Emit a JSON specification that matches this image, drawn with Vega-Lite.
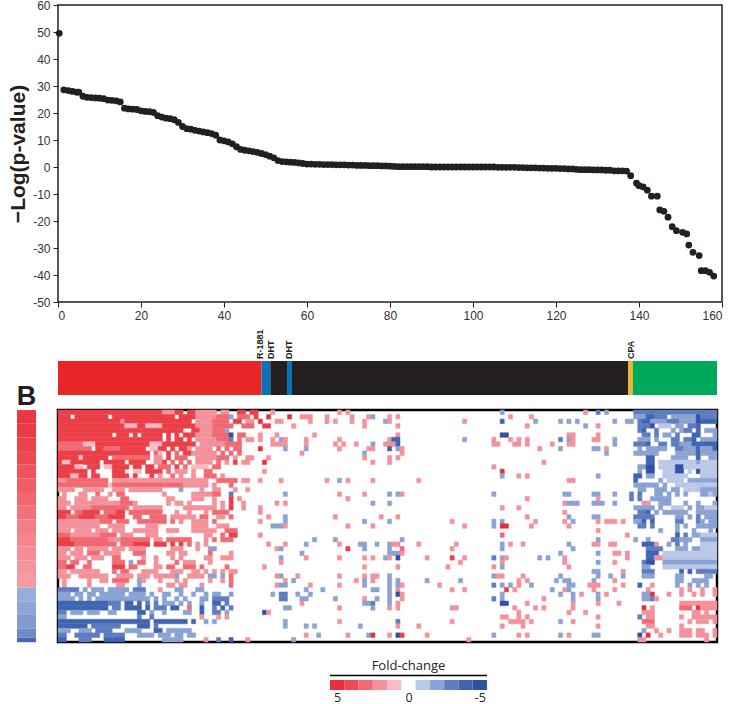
{"$schema":"https://vega.github.io/schema/vega-lite/v6.json","padding":{"left":6,"top":-2,"right":0,"bottom":0},"background":"white","config":{"view":{"stroke":null},"font":"Liberation Sans"},"bounds":"flush","spacing":22,"hconcat":[
{"width":19,"height":685,"layer":[
{"data":{"values":[{"s":0,"e":3,"v":4.8},{"s":3,"e":6,"v":4.6},{"s":6,"e":9,"v":4.3},{"s":9,"e":12,"v":4},{"s":12,"e":15,"v":3.7},{"s":15,"e":18,"v":3.4},{"s":18,"e":21,"v":3.1},{"s":21,"e":24,"v":2.8},{"s":24,"e":27,"v":2.5},{"s":27,"e":30,"v":2.3},{"s":30,"e":33,"v":2.1},{"s":33,"e":36,"v":1.9},{"s":36,"e":39,"v":1.8},{"s":39,"e":42,"v":-1.7},{"s":42,"e":45,"v":-1.9},{"s":45,"e":48,"v":-2.2},{"s":48,"e":50,"v":-2.6},{"s":50,"e":51,"v":-3.8}]},"mark":{"type":"rect"},"encoding":{"y":{"field":"s","type":"quantitative","axis":null,"scale":{"domain":[-89,61.5],"nice":false,"zero":false,"reverse":true}},"y2":{"field":"e"},"color":{"field":"v","type":"quantitative","legend":null,"scale":{"domain":[-5,-4,-3,-2,-1,0,1,2,3,4,5],"range":["#2f50a4","#3e64b2","#5f7cc0","#8aa2d4","#bcc8e8","#ffffff","#f9bcc4","#f4919a","#f06a72","#ee4a52","#e8303a"]}}}},
{"data":{"values":[{"t":"B","s":0.25}]},"mark":{"type":"text","fontSize":27,"fontWeight":"bold","baseline":"bottom","font":"Liberation Sans","color":"#231f20"},"encoding":{"y":{"field":"s","type":"quantitative","axis":null,"scale":{"domain":[-89,61.5],"nice":false,"zero":false,"reverse":true}},"text":{"field":"t"}}}
]},
{"bounds":"flush","spacing":0,"vconcat":[
{"width":664,"height":297,"view":{"stroke":"#231f20","strokeWidth":1.5},"data":{"values":[{"k":0.3,"y":49.5},{"k":1.4,"y":28.6},{"k":2.5,"y":28.3},{"k":3.5,"y":28},{"k":4.5,"y":27.7},{"k":5,"y":27.7},{"k":6,"y":26.2},{"k":7,"y":25.8},{"k":8,"y":25.7},{"k":9,"y":25.6},{"k":10,"y":25.5},{"k":11,"y":25.3},{"k":12,"y":24.8},{"k":13,"y":24.7},{"k":14,"y":24.5},{"k":15,"y":24.1},{"k":16,"y":21.8},{"k":17,"y":21.5},{"k":18,"y":21.4},{"k":19,"y":21.3},{"k":20,"y":20.8},{"k":21,"y":20.6},{"k":22,"y":20.5},{"k":23,"y":20.2},{"k":24,"y":19},{"k":25,"y":18.5},{"k":26,"y":18.1},{"k":27,"y":17.9},{"k":28,"y":17.5},{"k":29,"y":16.5},{"k":30,"y":15},{"k":31,"y":14.2},{"k":32,"y":14},{"k":33,"y":13.6},{"k":34,"y":13.3},{"k":35,"y":13},{"k":36,"y":12.7},{"k":37,"y":12.4},{"k":38,"y":11.8},{"k":39,"y":10},{"k":40,"y":9.7},{"k":41,"y":9.3},{"k":42,"y":8.6},{"k":43,"y":7.5},{"k":44,"y":6.5},{"k":45,"y":6.2},{"k":46,"y":6},{"k":47,"y":5.7},{"k":48,"y":5.4},{"k":49,"y":5},{"k":50,"y":4.6},{"k":51,"y":4},{"k":52,"y":3.4},{"k":53,"y":2.4},{"k":54,"y":2},{"k":55,"y":1.9},{"k":56,"y":1.8},{"k":57,"y":1.7},{"k":58,"y":1.5},{"k":59,"y":1.3},{"k":60,"y":1.1},{"k":61,"y":1.1},{"k":62,"y":1},{"k":63,"y":1},{"k":64,"y":0.9},{"k":65,"y":0.9},{"k":66,"y":0.9},{"k":67,"y":0.8},{"k":68,"y":0.8},{"k":69,"y":0.8},{"k":70,"y":0.7},{"k":71,"y":0.7},{"k":72,"y":0.6},{"k":73,"y":0.6},{"k":74,"y":0.6},{"k":75,"y":0.5},{"k":76,"y":0.5},{"k":77,"y":0.5},{"k":78,"y":0.4},{"k":79,"y":0.4},{"k":80,"y":0.3},{"k":81,"y":0.2},{"k":82,"y":0.1},{"k":83,"y":0.1},{"k":84,"y":0.1},{"k":85,"y":0.1},{"k":86,"y":0.1},{"k":87,"y":0.1},{"k":88,"y":0.1},{"k":89,"y":0.1},{"k":90,"y":0},{"k":91,"y":0},{"k":92,"y":0},{"k":93,"y":0},{"k":94,"y":0},{"k":95,"y":0},{"k":96,"y":0},{"k":97,"y":0},{"k":98,"y":0},{"k":99,"y":0},{"k":100,"y":0},{"k":101,"y":0},{"k":102,"y":0},{"k":103,"y":0},{"k":104,"y":0},{"k":105,"y":0},{"k":106,"y":-0.1},{"k":107,"y":-0.1},{"k":108,"y":-0.1},{"k":109,"y":-0.1},{"k":110,"y":-0.1},{"k":111,"y":-0.2},{"k":112,"y":-0.2},{"k":113,"y":-0.3},{"k":114,"y":-0.3},{"k":115,"y":-0.3},{"k":116,"y":-0.4},{"k":117,"y":-0.4},{"k":118,"y":-0.5},{"k":119,"y":-0.5},{"k":120,"y":-0.5},{"k":121,"y":-0.6},{"k":122,"y":-0.6},{"k":123,"y":-0.7},{"k":124,"y":-0.7},{"k":125,"y":-0.9},{"k":126,"y":-1},{"k":127,"y":-1},{"k":128,"y":-1},{"k":129,"y":-1.1},{"k":130,"y":-1.1},{"k":131,"y":-1.1},{"k":132,"y":-1.2},{"k":133,"y":-1.2},{"k":134,"y":-1.4},{"k":135,"y":-1.4},{"k":136,"y":-1.4},{"k":137,"y":-1.5},{"k":138,"y":-3.2},{"k":139.4,"y":-6},{"k":140,"y":-6.9},{"k":141,"y":-7.4},{"k":142,"y":-8.6},{"k":143,"y":-10.8},{"k":144.4,"y":-10.8},{"k":145,"y":-15.9},{"k":146,"y":-16.4},{"k":147,"y":-18.6},{"k":148,"y":-22.1},{"k":149,"y":-23.6},{"k":150.5,"y":-24.2},{"k":151.5,"y":-24.8},{"k":152,"y":-28.9},{"k":153,"y":-31.6},{"k":154.5,"y":-32.8},{"k":155,"y":-38.4},{"k":156,"y":-38.4},{"k":157,"y":-39},{"k":158,"y":-40.4}]},"mark":{"type":"circle","size":46,"opacity":1,"color":"#231f20"},"encoding":{"x":{"field":"k","type":"quantitative","scale":{"domain":[0,160],"nice":false},"axis":{"values":[0,20,40,60,80,100,120,140,160],"title":null,"grid":false,"domain":false,"tickColor":"#231f20","tickSize":5,"labelFontSize":12,"labelColor":"#333333","labelFont":"Liberation Sans","labelPadding":3}},"y":{"field":"y","type":"quantitative","scale":{"domain":[-50,60],"nice":false},"axis":{"values":[-50,-40,-30,-20,-10,0,10,20,30,40,50,60],"labelExpr":"replace(datum.label,'−','-')","title":"−Log(p-value)","titleFontSize":21,"titleFontWeight":"bold","titleColor":"#231f20","titlePadding":4,"grid":false,"domain":false,"tickColor":"#231f20","tickSize":5,"labelFontSize":12,"labelColor":"#333333","labelFont":"Liberation Sans","labelPadding":3}}}},
{"width":659,"height":59,"data":{"values":[{"t":"x"}]},"mark":{"type":"rect","opacity":0},"encoding":{}},
{"width":659,"height":34,"layer":[
{"data":{"values":[{"a":0,"b":48.8,"c":"treat"},{"a":48.8,"b":50.9,"c":"dht"},{"a":50.9,"b":54.9,"c":"other"},{"a":54.9,"b":56.1,"c":"dht"},{"a":56.1,"b":136.7,"c":"other"},{"a":136.7,"b":137.8,"c":"cpa"},{"a":137.8,"b":158,"c":"down"}]},"mark":{"type":"rect"},"encoding":{"x":{"field":"a","type":"quantitative","axis":null,"scale":{"domain":[0,158],"nice":false}},"x2":{"field":"b"},"color":{"field":"c","type":"nominal","legend":null,"scale":{"domain":["treat","dht","other","cpa","down"],"range":["#e92528","#0b72b9","#231f20","#f0b02a","#00a85a"]}}}},
{"data":{"values":[{"a":48.5,"t":"R-1881","h":1},{"a":51,"t":"DHT","h":1},{"a":55.5,"t":"DHT","h":1},{"a":137.3,"t":"CPA","h":1}]},"mark":{"type":"text","angle":270,"align":"left","baseline":"middle","fontSize":9,"fontWeight":"bold","dx":2,"color":"#231f20"},"encoding":{"x":{"field":"a","type":"quantitative","axis":null,"scale":{"domain":[0,158],"nice":false}},"y":{"field":"h","type":"quantitative","axis":null,"scale":{"domain":[0,1]}},"text":{"field":"t"}}}
]},
{"width":659,"height":15,"data":{"values":[{"t":"x"}]},"mark":{"type":"rect","opacity":0},"encoding":{}},
{"width":659,"height":232,"view":{"stroke":"#000000","strokeWidth":2.5},"data":{"values":[
{"r":1,"a":0,"b":25,"v":4},{"r":1,"a":25,"b":28,"v":2},{"r":1,"a":28,"b":30,"v":4},{"r":1,"a":31,"b":33,"v":4},{"r":1,"a":33,"b":38,"v":2},{"r":1,"a":39,"b":41,"v":2},{"r":1,"a":43,"b":45,"v":4},{"r":1,"a":46,"b":48,"v":4},{"r":1,"a":51,"b":52,"v":2},{"r":1,"a":67,"b":68,"v":2},{"r":1,"a":69,"b":70,"v":2},{"r":1,"a":106,"b":107,"v":-2},{"r":1,"a":126,"b":127,"v":2},{"r":1,"a":129,"b":130,"v":-3},{"r":1,"a":131,"b":132,"v":-2},{"r":1,"a":138,"b":158,"v":-3},
{"r":2,"a":0,"b":3,"v":4},{"r":2,"a":4,"b":12,"v":4},{"r":2,"a":13,"b":28,"v":4},{"r":2,"a":29,"b":33,"v":4},{"r":2,"a":33,"b":38,"v":2},{"r":2,"a":38,"b":41,"v":3},{"r":2,"a":41,"b":42,"v":-2},{"r":2,"a":43,"b":46,"v":3},{"r":2,"a":47,"b":48,"v":4},{"r":2,"a":50,"b":51,"v":5},{"r":2,"a":55,"b":56,"v":5},{"r":2,"a":58,"b":61,"v":2},{"r":2,"a":64,"b":65,"v":2},{"r":2,"a":70,"b":71,"v":2},{"r":2,"a":74,"b":75,"v":2},{"r":2,"a":75,"b":76,"v":-2},{"r":2,"a":79,"b":80,"v":2},{"r":2,"a":81,"b":82,"v":2},{"r":2,"a":108,"b":109,"v":2},{"r":2,"a":113,"b":114,"v":2},{"r":2,"a":138,"b":141,"v":-2},{"r":2,"a":141,"b":143,"v":-4},{"r":2,"a":143,"b":146,"v":-3},{"r":2,"a":147,"b":153,"v":-2},{"r":2,"a":153,"b":154,"v":-5},{"r":2,"a":154,"b":158,"v":-3},
{"r":3,"a":0,"b":15,"v":4},{"r":3,"a":15,"b":16,"v":2},{"r":3,"a":16,"b":32,"v":4},{"r":3,"a":33,"b":37,"v":2},{"r":3,"a":37,"b":41,"v":3},{"r":3,"a":42,"b":44,"v":4},{"r":3,"a":45,"b":47,"v":2},{"r":3,"a":48,"b":49,"v":5},{"r":3,"a":52,"b":54,"v":2},{"r":3,"a":60,"b":61,"v":2},{"r":3,"a":64,"b":65,"v":2},{"r":3,"a":66,"b":67,"v":2},{"r":3,"a":70,"b":71,"v":2},{"r":3,"a":73,"b":74,"v":2},{"r":3,"a":78,"b":79,"v":-2},{"r":3,"a":79,"b":80,"v":2},{"r":3,"a":97,"b":98,"v":2},{"r":3,"a":106,"b":107,"v":-4},{"r":3,"a":114,"b":115,"v":-2},{"r":3,"a":120,"b":121,"v":-2},{"r":3,"a":122,"b":123,"v":-2},{"r":3,"a":124,"b":125,"v":-2},{"r":3,"a":133,"b":134,"v":-2},{"r":3,"a":136,"b":137,"v":-2},{"r":3,"a":137,"b":138,"v":-2},{"r":3,"a":139,"b":140,"v":-3},{"r":3,"a":140,"b":142,"v":-4},{"r":3,"a":142,"b":146,"v":-2},{"r":3,"a":146,"b":149,"v":-3},{"r":3,"a":149,"b":153,"v":-2},{"r":3,"a":153,"b":154,"v":-5},{"r":3,"a":154,"b":158,"v":-4},
{"r":4,"a":0,"b":16,"v":4},{"r":4,"a":16,"b":19,"v":1},{"r":4,"a":19,"b":21,"v":4},{"r":4,"a":21,"b":25,"v":1},{"r":4,"a":25,"b":33,"v":4},{"r":4,"a":33,"b":37,"v":2},{"r":4,"a":37,"b":42,"v":3},{"r":4,"a":44,"b":47,"v":3},{"r":4,"a":49,"b":51,"v":4},{"r":4,"a":56,"b":57,"v":2},{"r":4,"a":73,"b":74,"v":2},{"r":4,"a":81,"b":82,"v":2},{"r":4,"a":112,"b":113,"v":2},{"r":4,"a":126,"b":127,"v":-2},{"r":4,"a":129,"b":130,"v":2},{"r":4,"a":139,"b":142,"v":-3},{"r":4,"a":142,"b":143,"v":-5},{"r":4,"a":144,"b":147,"v":-1},{"r":4,"a":148,"b":150,"v":-2},{"r":4,"a":151,"b":153,"v":-3},{"r":4,"a":153,"b":154,"v":-4},
{"r":5,"a":0,"b":30,"v":4},{"r":5,"a":32,"b":34,"v":4},{"r":5,"a":34,"b":37,"v":2},{"r":5,"a":37,"b":40,"v":3},{"r":5,"a":40,"b":41,"v":-2},{"r":5,"a":139,"b":140,"v":-3},{"r":5,"a":140,"b":141,"v":-4},{"r":5,"a":143,"b":144,"v":-3},{"r":5,"a":147,"b":148,"v":-2},{"r":5,"a":149,"b":150,"v":-2},{"r":5,"a":150,"b":152,"v":-3},{"r":5,"a":153,"b":154,"v":-4},{"r":5,"a":155,"b":156,"v":-2},{"r":5,"a":156,"b":158,"v":-2},
{"r":6,"a":0,"b":13,"v":4},{"r":6,"a":14,"b":17,"v":4},{"r":6,"a":18,"b":19,"v":4},{"r":6,"a":20,"b":25,"v":4},{"r":6,"a":26,"b":27,"v":4},{"r":6,"a":28,"b":29,"v":4},{"r":6,"a":30,"b":33,"v":4},{"r":6,"a":33,"b":37,"v":2},{"r":6,"a":37,"b":41,"v":3},{"r":6,"a":41,"b":42,"v":-5},{"r":6,"a":43,"b":45,"v":3},{"r":6,"a":48,"b":49,"v":2},{"r":6,"a":52,"b":53,"v":2},{"r":6,"a":61,"b":62,"v":2},{"r":6,"a":81,"b":82,"v":2},{"r":6,"a":106,"b":108,"v":-5},{"r":6,"a":122,"b":123,"v":2},{"r":6,"a":123,"b":124,"v":2},{"r":6,"a":129,"b":130,"v":2},{"r":6,"a":140,"b":142,"v":-3},{"r":6,"a":143,"b":144,"v":-3},{"r":6,"a":145,"b":147,"v":-2},{"r":6,"a":148,"b":149,"v":-3},{"r":6,"a":152,"b":154,"v":-4},{"r":6,"a":157,"b":158,"v":-2},
{"r":7,"a":0,"b":25,"v":4},{"r":7,"a":26,"b":27,"v":4},{"r":7,"a":28,"b":30,"v":4},{"r":7,"a":31,"b":32,"v":4},{"r":7,"a":33,"b":38,"v":2},{"r":7,"a":38,"b":41,"v":3},{"r":7,"a":41,"b":42,"v":-3},{"r":7,"a":43,"b":44,"v":3},{"r":7,"a":45,"b":47,"v":2},{"r":7,"a":48,"b":49,"v":2},{"r":7,"a":51,"b":52,"v":2},{"r":7,"a":53,"b":54,"v":-2},{"r":7,"a":54,"b":55,"v":2},{"r":7,"a":59,"b":60,"v":2},{"r":7,"a":67,"b":68,"v":2},{"r":7,"a":79,"b":80,"v":2},{"r":7,"a":80,"b":82,"v":-4},{"r":7,"a":97,"b":98,"v":-2},{"r":7,"a":104,"b":105,"v":2},{"r":7,"a":108,"b":109,"v":2},{"r":7,"a":110,"b":111,"v":2},{"r":7,"a":112,"b":113,"v":2},{"r":7,"a":120,"b":121,"v":-3},{"r":7,"a":122,"b":123,"v":-2},{"r":7,"a":123,"b":124,"v":2},{"r":7,"a":128,"b":130,"v":2},{"r":7,"a":133,"b":134,"v":-2},{"r":7,"a":139,"b":142,"v":-2},{"r":7,"a":143,"b":144,"v":-2},{"r":7,"a":147,"b":149,"v":-3},{"r":7,"a":150,"b":152,"v":-3},{"r":7,"a":152,"b":153,"v":-4},{"r":7,"a":154,"b":155,"v":-2},{"r":7,"a":155,"b":158,"v":-2},
{"r":8,"a":0,"b":6,"v":3},{"r":8,"a":6,"b":9,"v":1},{"r":8,"a":9,"b":22,"v":4},{"r":8,"a":22,"b":25,"v":1},{"r":8,"a":25,"b":33,"v":4},{"r":8,"a":34,"b":40,"v":2},{"r":8,"a":40,"b":44,"v":3},{"r":8,"a":51,"b":55,"v":2},{"r":8,"a":59,"b":60,"v":2},{"r":8,"a":66,"b":67,"v":2},{"r":8,"a":68,"b":69,"v":2},{"r":8,"a":71,"b":72,"v":2},{"r":8,"a":75,"b":76,"v":-2},{"r":8,"a":78,"b":81,"v":2},{"r":8,"a":81,"b":82,"v":-4},{"r":8,"a":104,"b":106,"v":2},{"r":8,"a":109,"b":111,"v":2},{"r":8,"a":112,"b":113,"v":2},{"r":8,"a":118,"b":119,"v":2},{"r":8,"a":122,"b":124,"v":2},{"r":8,"a":133,"b":134,"v":-2},{"r":8,"a":138,"b":141,"v":-3},{"r":8,"a":141,"b":142,"v":-4},{"r":8,"a":144,"b":146,"v":-3},{"r":8,"a":147,"b":149,"v":-3},{"r":8,"a":149,"b":152,"v":-2},{"r":8,"a":152,"b":154,"v":-4},{"r":8,"a":154,"b":158,"v":-4},
{"r":9,"a":0,"b":8,"v":3},{"r":9,"a":9,"b":11,"v":4},{"r":9,"a":11,"b":15,"v":3},{"r":9,"a":15,"b":21,"v":4},{"r":9,"a":22,"b":24,"v":1},{"r":9,"a":24,"b":26,"v":4},{"r":9,"a":27,"b":28,"v":4},{"r":9,"a":29,"b":31,"v":4},{"r":9,"a":31,"b":32,"v":2},{"r":9,"a":33,"b":37,"v":2},{"r":9,"a":38,"b":39,"v":3},{"r":9,"a":40,"b":41,"v":3},{"r":9,"a":42,"b":44,"v":3},{"r":9,"a":48,"b":49,"v":5},{"r":9,"a":54,"b":55,"v":-2},{"r":9,"a":59,"b":60,"v":-2},{"r":9,"a":67,"b":68,"v":2},{"r":9,"a":74,"b":76,"v":2},{"r":9,"a":79,"b":80,"v":-4},{"r":9,"a":81,"b":82,"v":-2},{"r":9,"a":82,"b":83,"v":2},{"r":9,"a":115,"b":116,"v":2},{"r":9,"a":120,"b":121,"v":-2},{"r":9,"a":128,"b":130,"v":-2},{"r":9,"a":131,"b":132,"v":2},{"r":9,"a":139,"b":140,"v":-2},{"r":9,"a":141,"b":146,"v":-2},{"r":9,"a":148,"b":150,"v":-3},{"r":9,"a":150,"b":153,"v":-2},{"r":9,"a":153,"b":154,"v":-4},{"r":9,"a":154,"b":157,"v":-2},{"r":9,"a":157,"b":158,"v":-4},
{"r":10,"a":0,"b":22,"v":4},{"r":10,"a":23,"b":24,"v":3},{"r":10,"a":24,"b":25,"v":1},{"r":10,"a":26,"b":27,"v":4},{"r":10,"a":28,"b":29,"v":3},{"r":10,"a":30,"b":32,"v":4},{"r":10,"a":32,"b":38,"v":2},{"r":10,"a":39,"b":40,"v":3},{"r":10,"a":41,"b":42,"v":3},{"r":10,"a":43,"b":44,"v":3},{"r":10,"a":58,"b":59,"v":2},{"r":10,"a":73,"b":74,"v":-2},{"r":10,"a":82,"b":83,"v":2},{"r":10,"a":131,"b":132,"v":-2},{"r":10,"a":138,"b":144,"v":-2},{"r":10,"a":148,"b":150,"v":-2},{"r":10,"a":150,"b":153,"v":-2},{"r":10,"a":153,"b":154,"v":-4},{"r":10,"a":154,"b":158,"v":-2},
{"r":11,"a":0,"b":5,"v":4},{"r":11,"a":5,"b":6,"v":1},{"r":11,"a":6,"b":12,"v":4},{"r":11,"a":13,"b":22,"v":3},{"r":11,"a":23,"b":25,"v":2},{"r":11,"a":26,"b":27,"v":4},{"r":11,"a":28,"b":31,"v":3},{"r":11,"a":33,"b":38,"v":2},{"r":11,"a":38,"b":41,"v":3},{"r":11,"a":42,"b":43,"v":2},{"r":11,"a":45,"b":47,"v":2},{"r":11,"a":50,"b":51,"v":2},{"r":11,"a":73,"b":74,"v":2},{"r":11,"a":79,"b":80,"v":2},{"r":11,"a":81,"b":82,"v":2},{"r":11,"a":141,"b":143,"v":-4},{"r":11,"a":147,"b":151,"v":-2},{"r":11,"a":153,"b":154,"v":-4},{"r":11,"a":156,"b":158,"v":-2},
{"r":12,"a":0,"b":1,"v":4},{"r":12,"a":1,"b":3,"v":1},{"r":12,"a":3,"b":10,"v":4},{"r":12,"a":11,"b":16,"v":4},{"r":12,"a":17,"b":21,"v":4},{"r":12,"a":23,"b":25,"v":2},{"r":12,"a":25,"b":26,"v":4},{"r":12,"a":27,"b":28,"v":3},{"r":12,"a":29,"b":30,"v":3},{"r":12,"a":31,"b":32,"v":3},{"r":12,"a":33,"b":37,"v":2},{"r":12,"a":38,"b":39,"v":3},{"r":12,"a":40,"b":41,"v":2},{"r":12,"a":42,"b":43,"v":4},{"r":12,"a":44,"b":46,"v":2},{"r":12,"a":49,"b":50,"v":5},{"r":12,"a":75,"b":76,"v":2},{"r":12,"a":79,"b":80,"v":2},{"r":12,"a":116,"b":117,"v":2},{"r":12,"a":141,"b":143,"v":-4},{"r":12,"a":144,"b":153,"v":-1},{"r":12,"a":153,"b":154,"v":-2},{"r":12,"a":154,"b":158,"v":-1},
{"r":13,"a":0,"b":4,"v":4},{"r":13,"a":4,"b":6,"v":1},{"r":13,"a":7,"b":10,"v":4},{"r":13,"a":11,"b":13,"v":1},{"r":13,"a":13,"b":17,"v":4},{"r":13,"a":18,"b":20,"v":4},{"r":13,"a":21,"b":23,"v":4},{"r":13,"a":24,"b":27,"v":3},{"r":13,"a":28,"b":29,"v":4},{"r":13,"a":30,"b":31,"v":3},{"r":13,"a":32,"b":36,"v":1},{"r":13,"a":37,"b":39,"v":3},{"r":13,"a":104,"b":105,"v":2},{"r":13,"a":139,"b":141,"v":-2},{"r":13,"a":141,"b":143,"v":-5},{"r":13,"a":144,"b":148,"v":-1},{"r":13,"a":148,"b":150,"v":-5},{"r":13,"a":150,"b":158,"v":-1},
{"r":14,"a":0,"b":7,"v":4},{"r":14,"a":8,"b":9,"v":4},{"r":14,"a":13,"b":16,"v":4},{"r":14,"a":18,"b":20,"v":1},{"r":14,"a":21,"b":25,"v":4},{"r":14,"a":26,"b":27,"v":3},{"r":14,"a":28,"b":31,"v":2},{"r":14,"a":32,"b":33,"v":2},{"r":14,"a":35,"b":37,"v":3},{"r":14,"a":49,"b":50,"v":2},{"r":14,"a":106,"b":107,"v":5},{"r":14,"a":139,"b":140,"v":-2},{"r":14,"a":141,"b":143,"v":-5},{"r":14,"a":145,"b":148,"v":-1},{"r":14,"a":148,"b":150,"v":-5},{"r":14,"a":151,"b":152,"v":-1},{"r":14,"a":153,"b":154,"v":-5},{"r":14,"a":154,"b":158,"v":-1},
{"r":15,"a":0,"b":3,"v":4},{"r":15,"a":3,"b":5,"v":1},{"r":15,"a":5,"b":7,"v":4},{"r":15,"a":8,"b":10,"v":4},{"r":15,"a":13,"b":17,"v":4},{"r":15,"a":18,"b":19,"v":4},{"r":15,"a":22,"b":23,"v":4},{"r":15,"a":24,"b":25,"v":2},{"r":15,"a":27,"b":28,"v":3},{"r":15,"a":29,"b":30,"v":2},{"r":15,"a":32,"b":33,"v":2},{"r":15,"a":35,"b":38,"v":3},{"r":15,"a":39,"b":40,"v":2},{"r":15,"a":106,"b":107,"v":-2},{"r":15,"a":110,"b":111,"v":2},{"r":15,"a":112,"b":113,"v":2},{"r":15,"a":129,"b":130,"v":-2},{"r":15,"a":138,"b":140,"v":-4},{"r":15,"a":141,"b":143,"v":-2},{"r":15,"a":145,"b":151,"v":-1},{"r":15,"a":154,"b":158,"v":-1},
{"r":16,"a":0,"b":2,"v":2},{"r":16,"a":2,"b":12,"v":3},{"r":16,"a":13,"b":30,"v":2},{"r":16,"a":30,"b":36,"v":2},{"r":16,"a":38,"b":43,"v":3},{"r":16,"a":44,"b":46,"v":2},{"r":16,"a":48,"b":49,"v":2},{"r":16,"a":53,"b":54,"v":2},{"r":16,"a":64,"b":65,"v":2},{"r":16,"a":67,"b":68,"v":-2},{"r":16,"a":69,"b":70,"v":2},{"r":16,"a":75,"b":76,"v":2},{"r":16,"a":86,"b":87,"v":2},{"r":16,"a":122,"b":123,"v":2},{"r":16,"a":123,"b":124,"v":2},{"r":16,"a":138,"b":139,"v":-4},{"r":16,"a":144,"b":145,"v":-2},{"r":16,"a":146,"b":150,"v":-1},{"r":16,"a":151,"b":154,"v":-2},{"r":16,"a":154,"b":158,"v":-2},
{"r":17,"a":0,"b":12,"v":3},{"r":17,"a":12,"b":13,"v":1},{"r":17,"a":13,"b":30,"v":3},{"r":17,"a":30,"b":36,"v":2},{"r":17,"a":37,"b":38,"v":2},{"r":17,"a":41,"b":42,"v":3},{"r":17,"a":138,"b":144,"v":-2},{"r":17,"a":145,"b":146,"v":-2},{"r":17,"a":148,"b":158,"v":-1},
{"r":18,"a":0,"b":4,"v":2},{"r":18,"a":6,"b":11,"v":2},{"r":18,"a":13,"b":16,"v":2},{"r":18,"a":17,"b":25,"v":2},{"r":18,"a":29,"b":30,"v":-2},{"r":18,"a":34,"b":35,"v":2},{"r":18,"a":37,"b":39,"v":2},{"r":18,"a":42,"b":43,"v":2},{"r":18,"a":45,"b":46,"v":2},{"r":18,"a":139,"b":141,"v":-2},{"r":18,"a":143,"b":146,"v":-2},{"r":18,"a":147,"b":149,"v":-2},{"r":18,"a":150,"b":154,"v":-1},{"r":18,"a":154,"b":158,"v":-2},
{"r":19,"a":1,"b":2,"v":2},{"r":19,"a":5,"b":7,"v":2},{"r":19,"a":9,"b":10,"v":3},{"r":19,"a":12,"b":13,"v":2},{"r":19,"a":14,"b":16,"v":3},{"r":19,"a":25,"b":26,"v":2},{"r":19,"a":32,"b":37,"v":2},{"r":19,"a":37,"b":39,"v":3},{"r":19,"a":41,"b":42,"v":-3},{"r":19,"a":54,"b":55,"v":-2},{"r":19,"a":67,"b":68,"v":2},{"r":19,"a":73,"b":74,"v":2},{"r":19,"a":79,"b":80,"v":-2},{"r":19,"a":81,"b":82,"v":-2},{"r":19,"a":82,"b":83,"v":2},{"r":19,"a":104,"b":105,"v":-2},{"r":19,"a":121,"b":122,"v":-2},{"r":19,"a":122,"b":123,"v":-2},{"r":19,"a":128,"b":130,"v":-2},{"r":19,"a":133,"b":134,"v":-2},{"r":19,"a":137,"b":138,"v":-3},{"r":19,"a":139,"b":140,"v":-3},{"r":19,"a":143,"b":145,"v":-2},{"r":19,"a":146,"b":147,"v":-2},{"r":19,"a":148,"b":149,"v":-2},{"r":19,"a":150,"b":151,"v":-2},{"r":19,"a":154,"b":156,"v":-2},{"r":19,"a":156,"b":157,"v":-1},{"r":19,"a":157,"b":158,"v":-2},
{"r":20,"a":0,"b":2,"v":2},{"r":20,"a":4,"b":7,"v":2},{"r":20,"a":8,"b":12,"v":2},{"r":20,"a":15,"b":17,"v":3},{"r":20,"a":26,"b":28,"v":2},{"r":20,"a":32,"b":35,"v":2},{"r":20,"a":37,"b":38,"v":2},{"r":20,"a":41,"b":42,"v":4},{"r":20,"a":43,"b":44,"v":2},{"r":20,"a":69,"b":70,"v":2},{"r":20,"a":112,"b":113,"v":2},{"r":20,"a":129,"b":130,"v":2},{"r":20,"a":137,"b":138,"v":-3},{"r":20,"a":139,"b":140,"v":-3},{"r":20,"a":142,"b":147,"v":-2},
{"r":21,"a":0,"b":3,"v":2},{"r":21,"a":4,"b":15,"v":2},{"r":21,"a":15,"b":18,"v":3},{"r":21,"a":18,"b":19,"v":2},{"r":21,"a":26,"b":27,"v":2},{"r":21,"a":28,"b":30,"v":2},{"r":21,"a":31,"b":32,"v":2},{"r":21,"a":37,"b":38,"v":2},{"r":21,"a":39,"b":40,"v":2},{"r":21,"a":41,"b":42,"v":4},{"r":21,"a":44,"b":45,"v":2},{"r":21,"a":52,"b":53,"v":2},{"r":21,"a":54,"b":55,"v":2},{"r":21,"a":75,"b":76,"v":-2},{"r":21,"a":79,"b":80,"v":-2},{"r":21,"a":121,"b":122,"v":2},{"r":21,"a":122,"b":123,"v":-2},{"r":21,"a":123,"b":124,"v":-2},{"r":21,"a":124,"b":125,"v":-2},{"r":21,"a":128,"b":131,"v":-2},{"r":21,"a":133,"b":134,"v":-2},{"r":21,"a":140,"b":142,"v":2},{"r":21,"a":144,"b":147,"v":-2},{"r":21,"a":150,"b":151,"v":-2},{"r":21,"a":153,"b":154,"v":-2},{"r":21,"a":157,"b":158,"v":-2},
{"r":22,"a":0,"b":2,"v":2},{"r":22,"a":3,"b":8,"v":2},{"r":22,"a":8,"b":17,"v":3},{"r":22,"a":18,"b":25,"v":2},{"r":22,"a":30,"b":38,"v":2},{"r":22,"a":39,"b":40,"v":2},{"r":22,"a":41,"b":42,"v":4},{"r":22,"a":44,"b":45,"v":2},{"r":22,"a":48,"b":49,"v":2},{"r":22,"a":106,"b":107,"v":2},{"r":22,"a":110,"b":111,"v":2},{"r":22,"a":138,"b":143,"v":-2},{"r":22,"a":144,"b":145,"v":-2},{"r":22,"a":147,"b":150,"v":-1},{"r":22,"a":151,"b":152,"v":-2},{"r":22,"a":153,"b":155,"v":-2},{"r":22,"a":155,"b":158,"v":-1},
{"r":23,"a":0,"b":3,"v":4},{"r":23,"a":4,"b":6,"v":3},{"r":23,"a":6,"b":10,"v":4},{"r":23,"a":11,"b":14,"v":3},{"r":23,"a":14,"b":16,"v":4},{"r":23,"a":17,"b":25,"v":3},{"r":23,"a":28,"b":29,"v":2},{"r":23,"a":31,"b":32,"v":2},{"r":23,"a":35,"b":36,"v":2},{"r":23,"a":37,"b":41,"v":3},{"r":23,"a":48,"b":49,"v":2},{"r":23,"a":121,"b":122,"v":2},{"r":23,"a":139,"b":141,"v":-3},{"r":23,"a":141,"b":142,"v":-4},{"r":23,"a":143,"b":144,"v":-2},{"r":23,"a":145,"b":151,"v":-2},{"r":23,"a":153,"b":158,"v":-2},
{"r":24,"a":0,"b":2,"v":4},{"r":24,"a":2,"b":5,"v":3},{"r":24,"a":5,"b":9,"v":4},{"r":24,"a":9,"b":12,"v":3},{"r":24,"a":12,"b":16,"v":4},{"r":24,"a":18,"b":20,"v":3},{"r":24,"a":22,"b":26,"v":3},{"r":24,"a":27,"b":33,"v":2},{"r":24,"a":34,"b":36,"v":3},{"r":24,"a":38,"b":40,"v":2},{"r":24,"a":41,"b":42,"v":3},{"r":24,"a":50,"b":51,"v":2},{"r":24,"a":54,"b":55,"v":-2},{"r":24,"a":66,"b":67,"v":2},{"r":24,"a":77,"b":78,"v":2},{"r":24,"a":81,"b":82,"v":2},{"r":24,"a":112,"b":113,"v":2},{"r":24,"a":122,"b":123,"v":-2},{"r":24,"a":128,"b":130,"v":-2},{"r":24,"a":138,"b":143,"v":-3},{"r":24,"a":148,"b":150,"v":-2},{"r":24,"a":151,"b":152,"v":-2},{"r":24,"a":153,"b":154,"v":-3},{"r":24,"a":155,"b":158,"v":-2},
{"r":25,"a":0,"b":10,"v":2},{"r":25,"a":10,"b":13,"v":3},{"r":25,"a":14,"b":17,"v":3},{"r":25,"a":19,"b":26,"v":3},{"r":25,"a":27,"b":28,"v":3},{"r":25,"a":29,"b":30,"v":2},{"r":25,"a":32,"b":36,"v":2},{"r":25,"a":37,"b":38,"v":3},{"r":25,"a":48,"b":49,"v":2},{"r":25,"a":54,"b":55,"v":-2},{"r":25,"a":73,"b":74,"v":-2},{"r":25,"a":79,"b":80,"v":-2},{"r":25,"a":94,"b":95,"v":2},{"r":25,"a":104,"b":105,"v":-2},{"r":25,"a":106,"b":107,"v":-2},{"r":25,"a":114,"b":115,"v":2},{"r":25,"a":123,"b":124,"v":-2},{"r":25,"a":121,"b":122,"v":2},{"r":25,"a":129,"b":130,"v":2},{"r":25,"a":131,"b":134,"v":2},{"r":25,"a":135,"b":136,"v":2},{"r":25,"a":138,"b":140,"v":-2},{"r":25,"a":140,"b":141,"v":-4},{"r":25,"a":142,"b":143,"v":-4},{"r":25,"a":148,"b":150,"v":-3},{"r":25,"a":153,"b":154,"v":-3},{"r":25,"a":154,"b":155,"v":-2},{"r":25,"a":156,"b":158,"v":-2},
{"r":26,"a":0,"b":10,"v":2},{"r":26,"a":12,"b":16,"v":2},{"r":26,"a":21,"b":24,"v":2},{"r":26,"a":32,"b":36,"v":2},{"r":26,"a":38,"b":41,"v":2},{"r":26,"a":51,"b":54,"v":-2},{"r":26,"a":54,"b":55,"v":2},{"r":26,"a":69,"b":70,"v":2},{"r":26,"a":75,"b":76,"v":2},{"r":26,"a":97,"b":98,"v":2},{"r":26,"a":104,"b":105,"v":-2},{"r":26,"a":106,"b":108,"v":5},{"r":26,"a":113,"b":114,"v":2},{"r":26,"a":122,"b":123,"v":2},{"r":26,"a":139,"b":141,"v":-3},{"r":26,"a":142,"b":143,"v":-3},{"r":26,"a":148,"b":149,"v":-2},{"r":26,"a":150,"b":151,"v":-2},{"r":26,"a":153,"b":154,"v":-2},{"r":26,"a":154,"b":158,"v":-2},
{"r":27,"a":0,"b":3,"v":2},{"r":27,"a":4,"b":8,"v":2},{"r":27,"a":9,"b":12,"v":2},{"r":27,"a":13,"b":16,"v":2},{"r":27,"a":18,"b":24,"v":2},{"r":27,"a":26,"b":29,"v":2},{"r":27,"a":32,"b":38,"v":2},{"r":27,"a":40,"b":43,"v":3},{"r":27,"a":129,"b":130,"v":2},{"r":27,"a":144,"b":145,"v":-2},{"r":27,"a":148,"b":149,"v":-2},{"r":27,"a":152,"b":153,"v":-2},{"r":27,"a":156,"b":157,"v":-2},
{"r":28,"a":0,"b":3,"v":3},{"r":28,"a":3,"b":10,"v":2},{"r":28,"a":10,"b":14,"v":3},{"r":28,"a":15,"b":18,"v":2},{"r":28,"a":21,"b":24,"v":2},{"r":28,"a":35,"b":37,"v":2},{"r":28,"a":39,"b":40,"v":3},{"r":28,"a":41,"b":43,"v":4},{"r":28,"a":48,"b":49,"v":2},{"r":28,"a":106,"b":107,"v":3},{"r":28,"a":136,"b":137,"v":2},{"r":28,"a":148,"b":149,"v":-4},{"r":28,"a":150,"b":151,"v":-3},{"r":28,"a":152,"b":154,"v":-2},{"r":28,"a":154,"b":158,"v":-1},
{"r":29,"a":0,"b":3,"v":4},{"r":29,"a":3,"b":12,"v":3},{"r":29,"a":12,"b":15,"v":2},{"r":29,"a":15,"b":16,"v":3},{"r":29,"a":16,"b":22,"v":3},{"r":29,"a":23,"b":25,"v":2},{"r":29,"a":26,"b":32,"v":3},{"r":29,"a":35,"b":36,"v":2},{"r":29,"a":37,"b":38,"v":3},{"r":29,"a":39,"b":42,"v":3},{"r":29,"a":61,"b":62,"v":-2},{"r":29,"a":66,"b":67,"v":-2},{"r":29,"a":82,"b":83,"v":-2},{"r":29,"a":129,"b":130,"v":-2},{"r":29,"a":138,"b":139,"v":-2},{"r":29,"a":141,"b":142,"v":-2},{"r":29,"a":147,"b":149,"v":-3},{"r":29,"a":149,"b":152,"v":-2},{"r":29,"a":154,"b":158,"v":-2},
{"r":30,"a":0,"b":4,"v":4},{"r":30,"a":4,"b":14,"v":3},{"r":30,"a":15,"b":18,"v":3},{"r":30,"a":18,"b":22,"v":4},{"r":30,"a":23,"b":26,"v":4},{"r":30,"a":27,"b":28,"v":4},{"r":30,"a":29,"b":30,"v":4},{"r":30,"a":31,"b":32,"v":3},{"r":30,"a":33,"b":34,"v":2},{"r":30,"a":35,"b":36,"v":2},{"r":30,"a":50,"b":51,"v":2},{"r":30,"a":54,"b":55,"v":2},{"r":30,"a":59,"b":60,"v":-2},{"r":30,"a":67,"b":68,"v":2},{"r":30,"a":72,"b":74,"v":-2},{"r":30,"a":76,"b":77,"v":-2},{"r":30,"a":79,"b":80,"v":-2},{"r":30,"a":80,"b":82,"v":2},{"r":30,"a":86,"b":87,"v":2},{"r":30,"a":95,"b":96,"v":2},{"r":30,"a":106,"b":107,"v":-2},{"r":30,"a":108,"b":109,"v":2},{"r":30,"a":111,"b":112,"v":2},{"r":30,"a":122,"b":123,"v":-2},{"r":30,"a":128,"b":130,"v":2},{"r":30,"a":132,"b":134,"v":2},{"r":30,"a":140,"b":143,"v":-4},{"r":30,"a":143,"b":144,"v":2},{"r":30,"a":146,"b":147,"v":-2},{"r":30,"a":148,"b":149,"v":-3},{"r":30,"a":150,"b":151,"v":-2},{"r":30,"a":154,"b":158,"v":-1},
{"r":31,"a":0,"b":3,"v":2},{"r":31,"a":4,"b":6,"v":2},{"r":31,"a":7,"b":12,"v":2},{"r":31,"a":13,"b":16,"v":2},{"r":31,"a":17,"b":21,"v":2},{"r":31,"a":27,"b":30,"v":2},{"r":31,"a":33,"b":34,"v":2},{"r":31,"a":36,"b":38,"v":-2},{"r":31,"a":52,"b":53,"v":2},{"r":31,"a":53,"b":54,"v":-2},{"r":31,"a":69,"b":70,"v":4},{"r":31,"a":73,"b":74,"v":-2},{"r":31,"a":79,"b":80,"v":-2},{"r":31,"a":82,"b":83,"v":3},{"r":31,"a":94,"b":95,"v":2},{"r":31,"a":106,"b":107,"v":-2},{"r":31,"a":123,"b":124,"v":-2},{"r":31,"a":141,"b":145,"v":-3},{"r":31,"a":148,"b":151,"v":-2},{"r":31,"a":152,"b":154,"v":-2},{"r":31,"a":154,"b":158,"v":-1},
{"r":32,"a":0,"b":2,"v":2},{"r":32,"a":3,"b":6,"v":2},{"r":32,"a":7,"b":10,"v":3},{"r":32,"a":11,"b":15,"v":2},{"r":32,"a":18,"b":21,"v":3},{"r":32,"a":26,"b":28,"v":2},{"r":32,"a":29,"b":31,"v":2},{"r":32,"a":36,"b":37,"v":3},{"r":32,"a":41,"b":42,"v":2},{"r":32,"a":58,"b":59,"v":-2},{"r":32,"a":79,"b":82,"v":-2},{"r":32,"a":82,"b":83,"v":2},{"r":32,"a":120,"b":121,"v":-2},{"r":32,"a":129,"b":130,"v":-2},{"r":32,"a":133,"b":135,"v":2},{"r":32,"a":136,"b":137,"v":2},{"r":32,"a":141,"b":144,"v":-4},{"r":32,"a":145,"b":158,"v":-1},
{"r":33,"a":0,"b":3,"v":2},{"r":33,"a":4,"b":7,"v":2},{"r":33,"a":8,"b":11,"v":2},{"r":33,"a":13,"b":15,"v":3},{"r":33,"a":20,"b":21,"v":2},{"r":33,"a":23,"b":24,"v":2},{"r":33,"a":27,"b":28,"v":2},{"r":33,"a":29,"b":30,"v":2},{"r":33,"a":35,"b":37,"v":2},{"r":33,"a":39,"b":42,"v":2},{"r":33,"a":53,"b":54,"v":-2},{"r":33,"a":59,"b":60,"v":2},{"r":33,"a":67,"b":68,"v":2},{"r":33,"a":73,"b":74,"v":2},{"r":33,"a":75,"b":76,"v":2},{"r":33,"a":78,"b":79,"v":-2},{"r":33,"a":79,"b":80,"v":2},{"r":33,"a":81,"b":82,"v":-5},{"r":33,"a":88,"b":89,"v":2},{"r":33,"a":94,"b":95,"v":4},{"r":33,"a":97,"b":98,"v":2},{"r":33,"a":104,"b":105,"v":-3},{"r":33,"a":106,"b":107,"v":-2},{"r":33,"a":107,"b":108,"v":2},{"r":33,"a":115,"b":116,"v":-2},{"r":33,"a":117,"b":118,"v":-2},{"r":33,"a":121,"b":122,"v":2},{"r":33,"a":136,"b":137,"v":2},{"r":33,"a":141,"b":143,"v":-4},{"r":33,"a":143,"b":145,"v":2},{"r":33,"a":145,"b":158,"v":-1},
{"r":34,"a":0,"b":2,"v":3},{"r":34,"a":3,"b":5,"v":3},{"r":34,"a":7,"b":8,"v":3},{"r":34,"a":13,"b":16,"v":3},{"r":34,"a":17,"b":18,"v":-2},{"r":34,"a":19,"b":21,"v":3},{"r":34,"a":23,"b":24,"v":2},{"r":34,"a":28,"b":29,"v":3},{"r":34,"a":30,"b":33,"v":2},{"r":34,"a":36,"b":37,"v":2},{"r":34,"a":53,"b":54,"v":2},{"r":34,"a":96,"b":97,"v":2},{"r":34,"a":106,"b":107,"v":2},{"r":34,"a":121,"b":122,"v":2},{"r":34,"a":129,"b":130,"v":-2},{"r":34,"a":133,"b":134,"v":2},{"r":34,"a":140,"b":141,"v":-3},{"r":34,"a":141,"b":143,"v":-5},{"r":34,"a":145,"b":158,"v":-2},
{"r":35,"a":0,"b":2,"v":3},{"r":35,"a":2,"b":4,"v":4},{"r":35,"a":6,"b":8,"v":3},{"r":35,"a":13,"b":16,"v":4},{"r":35,"a":17,"b":19,"v":3},{"r":35,"a":23,"b":25,"v":2},{"r":35,"a":26,"b":28,"v":3},{"r":35,"a":30,"b":33,"v":3},{"r":35,"a":34,"b":35,"v":3},{"r":35,"a":40,"b":41,"v":3},{"r":35,"a":49,"b":50,"v":2},{"r":35,"a":73,"b":74,"v":2},{"r":35,"a":81,"b":82,"v":2},{"r":35,"a":93,"b":94,"v":2},{"r":35,"a":104,"b":105,"v":2},{"r":35,"a":106,"b":107,"v":-2},{"r":35,"a":122,"b":123,"v":2},{"r":35,"a":140,"b":142,"v":-2},{"r":35,"a":145,"b":158,"v":-1},
{"r":36,"a":0,"b":2,"v":2},{"r":36,"a":3,"b":10,"v":2},{"r":36,"a":13,"b":14,"v":3},{"r":36,"a":15,"b":17,"v":3},{"r":36,"a":20,"b":24,"v":2},{"r":36,"a":27,"b":30,"v":2},{"r":36,"a":32,"b":34,"v":2},{"r":36,"a":35,"b":36,"v":2},{"r":36,"a":37,"b":38,"v":2},{"r":36,"a":39,"b":40,"v":2},{"r":36,"a":41,"b":43,"v":2},{"r":36,"a":128,"b":130,"v":-2},{"r":36,"a":135,"b":136,"v":2},{"r":36,"a":140,"b":143,"v":-3},{"r":36,"a":149,"b":150,"v":-4},{"r":36,"a":151,"b":152,"v":-4},{"r":36,"a":153,"b":158,"v":-3},
{"r":37,"a":0,"b":3,"v":2},{"r":37,"a":5,"b":12,"v":2},{"r":37,"a":14,"b":18,"v":2},{"r":37,"a":19,"b":22,"v":2},{"r":37,"a":23,"b":28,"v":2},{"r":37,"a":28,"b":29,"v":-2},{"r":37,"a":31,"b":35,"v":2},{"r":37,"a":36,"b":38,"v":-2},{"r":37,"a":39,"b":40,"v":-2},{"r":37,"a":41,"b":42,"v":3},{"r":37,"a":52,"b":53,"v":2},{"r":37,"a":53,"b":54,"v":-2},{"r":37,"a":57,"b":58,"v":2},{"r":37,"a":67,"b":68,"v":2},{"r":37,"a":73,"b":74,"v":2},{"r":37,"a":75,"b":77,"v":2},{"r":37,"a":79,"b":80,"v":-2},{"r":37,"a":104,"b":105,"v":-2},{"r":37,"a":105,"b":107,"v":2},{"r":37,"a":111,"b":112,"v":2},{"r":37,"a":120,"b":121,"v":-2},{"r":37,"a":129,"b":130,"v":-2},{"r":37,"a":132,"b":133,"v":-2},{"r":37,"a":135,"b":136,"v":-2},{"r":37,"a":140,"b":143,"v":-2},{"r":37,"a":148,"b":150,"v":-2},{"r":37,"a":155,"b":157,"v":-2},
{"r":38,"a":1,"b":2,"v":2},{"r":38,"a":7,"b":8,"v":2},{"r":38,"a":10,"b":12,"v":2},{"r":38,"a":13,"b":17,"v":3},{"r":38,"a":19,"b":20,"v":-2},{"r":38,"a":20,"b":21,"v":2},{"r":38,"a":24,"b":25,"v":2},{"r":38,"a":28,"b":29,"v":2},{"r":38,"a":30,"b":31,"v":2},{"r":38,"a":36,"b":37,"v":2},{"r":38,"a":39,"b":40,"v":2},{"r":38,"a":41,"b":42,"v":3},{"r":38,"a":54,"b":55,"v":2},{"r":38,"a":56,"b":57,"v":-2},{"r":38,"a":71,"b":72,"v":2},{"r":38,"a":73,"b":74,"v":-2},{"r":38,"a":75,"b":76,"v":2},{"r":38,"a":79,"b":80,"v":-2},{"r":38,"a":81,"b":82,"v":-2},{"r":38,"a":88,"b":89,"v":-2},{"r":38,"a":96,"b":97,"v":-2},{"r":38,"a":110,"b":111,"v":2},{"r":38,"a":112,"b":113,"v":2},{"r":38,"a":119,"b":120,"v":-2},{"r":38,"a":121,"b":123,"v":-2},{"r":38,"a":128,"b":129,"v":-2},{"r":38,"a":133,"b":134,"v":2},{"r":38,"a":148,"b":150,"v":-2},{"r":38,"a":152,"b":156,"v":-2},
{"r":39,"a":1,"b":2,"v":2},{"r":39,"a":7,"b":8,"v":2},{"r":39,"a":14,"b":16,"v":2},{"r":39,"a":19,"b":20,"v":-2},{"r":39,"a":26,"b":28,"v":2},{"r":39,"a":29,"b":31,"v":2},{"r":39,"a":34,"b":35,"v":2},{"r":39,"a":41,"b":42,"v":3},{"r":39,"a":52,"b":53,"v":2},{"r":39,"a":53,"b":55,"v":-2},{"r":39,"a":60,"b":61,"v":2},{"r":39,"a":67,"b":68,"v":2},{"r":39,"a":73,"b":74,"v":-2},{"r":39,"a":79,"b":80,"v":-2},{"r":39,"a":81,"b":82,"v":-2},{"r":39,"a":82,"b":83,"v":2},{"r":39,"a":91,"b":92,"v":2},{"r":39,"a":104,"b":105,"v":-3},{"r":39,"a":106,"b":107,"v":-2},{"r":39,"a":108,"b":109,"v":-2},{"r":39,"a":110,"b":111,"v":2},{"r":39,"a":113,"b":114,"v":-2},{"r":39,"a":122,"b":124,"v":-2},{"r":39,"a":127,"b":130,"v":2},{"r":39,"a":135,"b":136,"v":2},{"r":39,"a":139,"b":140,"v":-4},{"r":39,"a":142,"b":143,"v":2},{"r":39,"a":148,"b":149,"v":-2},{"r":39,"a":151,"b":152,"v":-2},{"r":39,"a":153,"b":154,"v":-2},{"r":39,"a":155,"b":156,"v":-2},
{"r":40,"a":0,"b":5,"v":-3},{"r":40,"a":6,"b":7,"v":-2},{"r":40,"a":8,"b":11,"v":-2},{"r":40,"a":12,"b":17,"v":-2},{"r":40,"a":18,"b":21,"v":-3},{"r":40,"a":24,"b":25,"v":2},{"r":40,"a":28,"b":30,"v":-2},{"r":40,"a":33,"b":35,"v":-2},{"r":40,"a":59,"b":60,"v":-2},{"r":40,"a":63,"b":64,"v":-2},{"r":40,"a":75,"b":77,"v":-2},{"r":40,"a":79,"b":80,"v":-2},{"r":40,"a":81,"b":82,"v":2},{"r":40,"a":94,"b":95,"v":2},{"r":40,"a":97,"b":98,"v":2},{"r":40,"a":107,"b":108,"v":4},{"r":40,"a":109,"b":110,"v":2},{"r":40,"a":118,"b":119,"v":-2},{"r":40,"a":121,"b":122,"v":2},{"r":40,"a":122,"b":123,"v":-2},{"r":40,"a":128,"b":129,"v":2},{"r":40,"a":133,"b":134,"v":2},{"r":40,"a":141,"b":142,"v":2},{"r":40,"a":149,"b":150,"v":2},{"r":40,"a":151,"b":152,"v":2},{"r":40,"a":154,"b":155,"v":2},{"r":40,"a":157,"b":158,"v":2},
{"r":41,"a":0,"b":3,"v":-2},{"r":41,"a":4,"b":6,"v":-2},{"r":41,"a":7,"b":9,"v":-2},{"r":41,"a":10,"b":16,"v":-2},{"r":41,"a":17,"b":21,"v":-2},{"r":41,"a":22,"b":23,"v":-2},{"r":41,"a":25,"b":27,"v":-2},{"r":41,"a":29,"b":30,"v":-2},{"r":41,"a":32,"b":33,"v":-2},{"r":41,"a":35,"b":36,"v":-2},{"r":41,"a":37,"b":39,"v":-2},{"r":41,"a":41,"b":42,"v":-2},{"r":41,"a":51,"b":52,"v":-2},{"r":41,"a":53,"b":55,"v":-3},{"r":41,"a":57,"b":58,"v":-2},{"r":41,"a":60,"b":61,"v":-2},{"r":41,"a":79,"b":80,"v":-2},{"r":41,"a":81,"b":82,"v":-5},{"r":41,"a":82,"b":83,"v":2},{"r":41,"a":106,"b":107,"v":-2},{"r":41,"a":120,"b":121,"v":-2},{"r":41,"a":123,"b":124,"v":-2},{"r":41,"a":125,"b":126,"v":2},{"r":41,"a":129,"b":130,"v":-2},{"r":41,"a":131,"b":132,"v":2},{"r":41,"a":140,"b":142,"v":-2},{"r":41,"a":142,"b":143,"v":5},{"r":41,"a":146,"b":147,"v":2},{"r":41,"a":149,"b":150,"v":2},{"r":41,"a":152,"b":153,"v":2},{"r":41,"a":154,"b":155,"v":2},{"r":41,"a":157,"b":158,"v":2},
{"r":42,"a":0,"b":4,"v":-2},{"r":42,"a":5,"b":6,"v":-2},{"r":42,"a":7,"b":8,"v":-2},{"r":42,"a":9,"b":22,"v":-2},{"r":42,"a":23,"b":24,"v":-2},{"r":42,"a":25,"b":26,"v":-2},{"r":42,"a":28,"b":29,"v":-2},{"r":42,"a":30,"b":31,"v":-2},{"r":42,"a":34,"b":36,"v":-2},{"r":42,"a":37,"b":41,"v":-3},{"r":42,"a":53,"b":55,"v":-3},{"r":42,"a":58,"b":60,"v":-2},{"r":42,"a":66,"b":67,"v":-2},{"r":42,"a":73,"b":74,"v":2},{"r":42,"a":76,"b":77,"v":-2},{"r":42,"a":79,"b":80,"v":-2},{"r":42,"a":82,"b":83,"v":2},{"r":42,"a":104,"b":105,"v":-3},{"r":42,"a":106,"b":107,"v":-2},{"r":42,"a":116,"b":117,"v":2},{"r":42,"a":123,"b":124,"v":-2},{"r":42,"a":129,"b":130,"v":-2},{"r":42,"a":140,"b":142,"v":-2},{"r":42,"a":142,"b":143,"v":-3},{"r":42,"a":143,"b":144,"v":2},
{"r":43,"a":0,"b":12,"v":-4},{"r":43,"a":12,"b":15,"v":-3},{"r":43,"a":16,"b":18,"v":-4},{"r":43,"a":19,"b":20,"v":-4},{"r":43,"a":21,"b":22,"v":-3},{"r":43,"a":23,"b":24,"v":-3},{"r":43,"a":25,"b":28,"v":-2},{"r":43,"a":29,"b":30,"v":-2},{"r":43,"a":31,"b":32,"v":-2},{"r":43,"a":34,"b":35,"v":-2},{"r":43,"a":37,"b":39,"v":-4},{"r":43,"a":40,"b":41,"v":-3},{"r":43,"a":58,"b":59,"v":2},{"r":43,"a":73,"b":75,"v":-2},{"r":43,"a":75,"b":76,"v":-3},{"r":43,"a":79,"b":80,"v":-2},{"r":43,"a":81,"b":82,"v":2},{"r":43,"a":106,"b":108,"v":-5},{"r":43,"a":112,"b":113,"v":2},{"r":43,"a":123,"b":124,"v":2},{"r":43,"a":129,"b":130,"v":2},{"r":43,"a":134,"b":135,"v":2},{"r":43,"a":149,"b":158,"v":2},
{"r":44,"a":0,"b":12,"v":-4},{"r":44,"a":13,"b":15,"v":-3},{"r":44,"a":16,"b":20,"v":-4},{"r":44,"a":21,"b":22,"v":-4},{"r":44,"a":23,"b":26,"v":-3},{"r":44,"a":27,"b":29,"v":-4},{"r":44,"a":31,"b":32,"v":3},{"r":44,"a":34,"b":35,"v":-4},{"r":44,"a":37,"b":38,"v":-3},{"r":44,"a":39,"b":40,"v":-4},{"r":44,"a":41,"b":42,"v":-3},{"r":44,"a":54,"b":56,"v":-2},{"r":44,"a":67,"b":68,"v":2},{"r":44,"a":75,"b":76,"v":-2},{"r":44,"a":79,"b":80,"v":2},{"r":44,"a":81,"b":82,"v":2},{"r":44,"a":94,"b":96,"v":2},{"r":44,"a":109,"b":110,"v":2},{"r":44,"a":114,"b":115,"v":2},{"r":44,"a":116,"b":117,"v":2},{"r":44,"a":123,"b":124,"v":2},{"r":44,"a":140,"b":141,"v":5},{"r":44,"a":142,"b":143,"v":2},{"r":44,"a":149,"b":152,"v":3},{"r":44,"a":153,"b":154,"v":5},{"r":44,"a":154,"b":158,"v":2},
{"r":45,"a":0,"b":2,"v":-3},{"r":45,"a":3,"b":6,"v":-2},{"r":45,"a":7,"b":10,"v":-2},{"r":45,"a":12,"b":14,"v":-2},{"r":45,"a":19,"b":21,"v":-4},{"r":45,"a":22,"b":23,"v":-2},{"r":45,"a":25,"b":26,"v":-2},{"r":45,"a":30,"b":32,"v":-2},{"r":45,"a":34,"b":35,"v":-4},{"r":45,"a":37,"b":39,"v":-3},{"r":45,"a":40,"b":41,"v":-2},{"r":45,"a":49,"b":50,"v":-5},{"r":45,"a":50,"b":51,"v":2},{"r":45,"a":110,"b":111,"v":2},{"r":45,"a":122,"b":123,"v":2},{"r":45,"a":126,"b":127,"v":2},{"r":45,"a":140,"b":143,"v":2},{"r":45,"a":152,"b":154,"v":2},{"r":45,"a":155,"b":156,"v":2},
{"r":46,"a":0,"b":2,"v":-2},{"r":46,"a":19,"b":20,"v":-3},{"r":46,"a":22,"b":23,"v":-3},{"r":46,"a":34,"b":35,"v":2},{"r":46,"a":38,"b":39,"v":2},{"r":46,"a":40,"b":41,"v":2},{"r":46,"a":106,"b":108,"v":2},{"r":46,"a":110,"b":111,"v":2},{"r":46,"a":112,"b":113,"v":2},{"r":46,"a":129,"b":130,"v":2},{"r":46,"a":139,"b":140,"v":-3},{"r":46,"a":141,"b":143,"v":2},{"r":46,"a":149,"b":150,"v":2},{"r":46,"a":152,"b":155,"v":2},{"r":46,"a":155,"b":158,"v":2},
{"r":47,"a":0,"b":22,"v":-4},{"r":47,"a":23,"b":31,"v":-4},{"r":47,"a":32,"b":33,"v":-4},{"r":47,"a":35,"b":36,"v":-2},{"r":47,"a":37,"b":38,"v":-2},{"r":47,"a":54,"b":55,"v":-2},{"r":47,"a":67,"b":68,"v":2},{"r":47,"a":81,"b":82,"v":-3},{"r":47,"a":94,"b":95,"v":2},{"r":47,"a":108,"b":112,"v":2},{"r":47,"a":113,"b":114,"v":2},{"r":47,"a":120,"b":121,"v":-2},{"r":47,"a":123,"b":124,"v":2},{"r":47,"a":140,"b":143,"v":3},{"r":47,"a":151,"b":152,"v":2},{"r":47,"a":153,"b":156,"v":2},{"r":47,"a":157,"b":158,"v":2},
{"r":48,"a":0,"b":7,"v":-4},{"r":48,"a":8,"b":15,"v":-3},{"r":48,"a":19,"b":22,"v":-4},{"r":48,"a":23,"b":24,"v":-3},{"r":48,"a":54,"b":55,"v":-2},{"r":48,"a":59,"b":60,"v":-2},{"r":48,"a":61,"b":62,"v":-2},{"r":48,"a":72,"b":73,"v":-2},{"r":48,"a":81,"b":82,"v":2},{"r":48,"a":86,"b":87,"v":2},{"r":48,"a":106,"b":107,"v":2},{"r":48,"a":111,"b":112,"v":2},{"r":48,"a":129,"b":130,"v":2},{"r":48,"a":141,"b":143,"v":2},{"r":48,"a":149,"b":150,"v":2},
{"r":49,"a":0,"b":3,"v":-2},{"r":49,"a":5,"b":8,"v":-2},{"r":49,"a":9,"b":13,"v":-3},{"r":49,"a":16,"b":20,"v":-2},{"r":49,"a":23,"b":25,"v":-4},{"r":49,"a":26,"b":32,"v":-2},{"r":49,"a":140,"b":141,"v":-2},{"r":49,"a":143,"b":144,"v":2},{"r":49,"a":146,"b":147,"v":2},{"r":49,"a":149,"b":152,"v":2},{"r":49,"a":153,"b":155,"v":2},{"r":49,"a":157,"b":158,"v":2},
{"r":50,"a":0,"b":2,"v":-3},{"r":50,"a":4,"b":10,"v":-3},{"r":50,"a":11,"b":16,"v":-3},{"r":50,"a":19,"b":23,"v":-2},{"r":50,"a":24,"b":27,"v":-2},{"r":50,"a":28,"b":30,"v":-2},{"r":50,"a":31,"b":33,"v":-2},{"r":50,"a":59,"b":60,"v":2},{"r":50,"a":62,"b":63,"v":-2},{"r":50,"a":69,"b":70,"v":2},{"r":50,"a":74,"b":75,"v":-2},{"r":50,"a":75,"b":76,"v":5},{"r":50,"a":79,"b":80,"v":2},{"r":50,"a":81,"b":82,"v":-5},{"r":50,"a":82,"b":83,"v":4},{"r":50,"a":88,"b":89,"v":2},{"r":50,"a":104,"b":105,"v":-2},{"r":50,"a":110,"b":111,"v":2},{"r":50,"a":112,"b":113,"v":2},{"r":50,"a":120,"b":121,"v":-2},{"r":50,"a":122,"b":123,"v":2},{"r":50,"a":128,"b":130,"v":-2},{"r":50,"a":139,"b":140,"v":-5},{"r":50,"a":141,"b":142,"v":5},{"r":50,"a":144,"b":145,"v":2},{"r":50,"a":149,"b":152,"v":2},{"r":50,"a":153,"b":156,"v":2},{"r":50,"a":157,"b":158,"v":2},
{"r":51,"a":0,"b":2,"v":-4},{"r":51,"a":5,"b":8,"v":-3},{"r":51,"a":11,"b":16,"v":-4},{"r":51,"a":25,"b":30,"v":-2},{"r":51,"a":35,"b":36,"v":2},{"r":51,"a":38,"b":39,"v":-3},{"r":51,"a":41,"b":42,"v":-4},{"r":51,"a":45,"b":46,"v":2},{"r":51,"a":56,"b":57,"v":-2},{"r":51,"a":98,"b":99,"v":2},{"r":51,"a":139,"b":141,"v":2},{"r":51,"a":155,"b":156,"v":2}
]},"mark":{"type":"rect","strokeWidth":0.5},"encoding":{"x":{"field":"a","type":"quantitative","axis":null,"scale":{"domain":[0,158],"nice":false}},"x2":{"field":"b"},"y":{"field":"r","type":"ordinal","axis":null,"scale":{"domain":[1,2,3,4,5,6,7,8,9,10,11,12,13,14,15,16,17,18,19,20,21,22,23,24,25,26,27,28,29,30,31,32,33,34,35,36,37,38,39,40,41,42,43,44,45,46,47,48,49,50,51],"paddingInner":0,"paddingOuter":0}},"color":{"field":"v","type":"quantitative","legend":null,"scale":{"domain":[-5,-4,-3,-2,-1,0,1,2,3,4,5],"range":["#2f50a4","#3e64b2","#5f7cc0","#8aa2d4","#bcc8e8","#ffffff","#f9bcc4","#f4919a","#f06a72","#ec3f48","#e8303a"]}},"stroke":{"field":"v","type":"quantitative","legend":null,"scale":{"domain":[-5,-4,-3,-2,-1,0,1,2,3,4,5],"range":["#2f50a4","#3e64b2","#5f7cc0","#8aa2d4","#bcc8e8","#ffffff","#f9bcc4","#f4919a","#f06a72","#ec3f48","#e8303a"]}}}},
{"width":659,"height":38,"data":{"values":[{"t":"x"}]},"mark":{"type":"rect","opacity":0},"encoding":{}},
{"width":659,"height":10,"layer":[
{"data":{"values":[{"a":5.5,"b":4.5,"v":5},{"a":4.5,"b":3.5,"v":4},{"a":3.5,"b":2.5,"v":3},{"a":2.5,"b":1.5,"v":2},{"a":1.5,"b":0.5,"v":1},{"a":-0.5,"b":-1.5,"v":-1},{"a":-1.5,"b":-2.5,"v":-2},{"a":-2.5,"b":-3.5,"v":-3},{"a":-3.5,"b":-4.5,"v":-4},{"a":-4.5,"b":-5.5,"v":-5}]},"mark":{"type":"rect"},"encoding":{"x":{"field":"a","type":"quantitative","scale":{"domain":[24.56,-21.62],"nice":false,"zero":false},"axis":{"values":[5,0,-5],"labelExpr":"replace(datum.label,'−','-')","title":null,"grid":false,"domain":false,"ticks":false,"labelFontSize":12.5,"labelFont":"Open Sans","labelColor":"#231f20","labelPadding":1}},"x2":{"field":"b"},"color":{"field":"v","type":"quantitative","legend":null,"scale":{"domain":[-5,-4,-3,-2,-1,0,1,2,3,4,5],"range":["#2f50a4","#3e64b2","#5f7cc0","#8aa2d4","#bcc8e8","#ffffff","#f9bcc4","#f4919a","#f06a72","#ee4a52","#e8303a"]}}}},
{"data":{"values":[{"a":5.5,"b":-5.5,"h":1.45}]},"mark":{"type":"rule","color":"#000000","strokeWidth":1.5},"encoding":{"x":{"field":"a","type":"quantitative"},"x2":{"field":"b"},"y":{"field":"h","type":"quantitative","axis":null,"scale":{"domain":[0,1]}}}},
{"data":{"values":[{"a":0,"h":1.75,"t":"Fold-change"}]},"mark":{"type":"text","fontSize":13,"font":"Open Sans","baseline":"bottom","color":"#231f20"},"encoding":{"x":{"field":"a","type":"quantitative"},"y":{"field":"h","type":"quantitative","axis":null,"scale":{"domain":[0,1]}},"text":{"field":"t"}}}
]}
]}
]}
